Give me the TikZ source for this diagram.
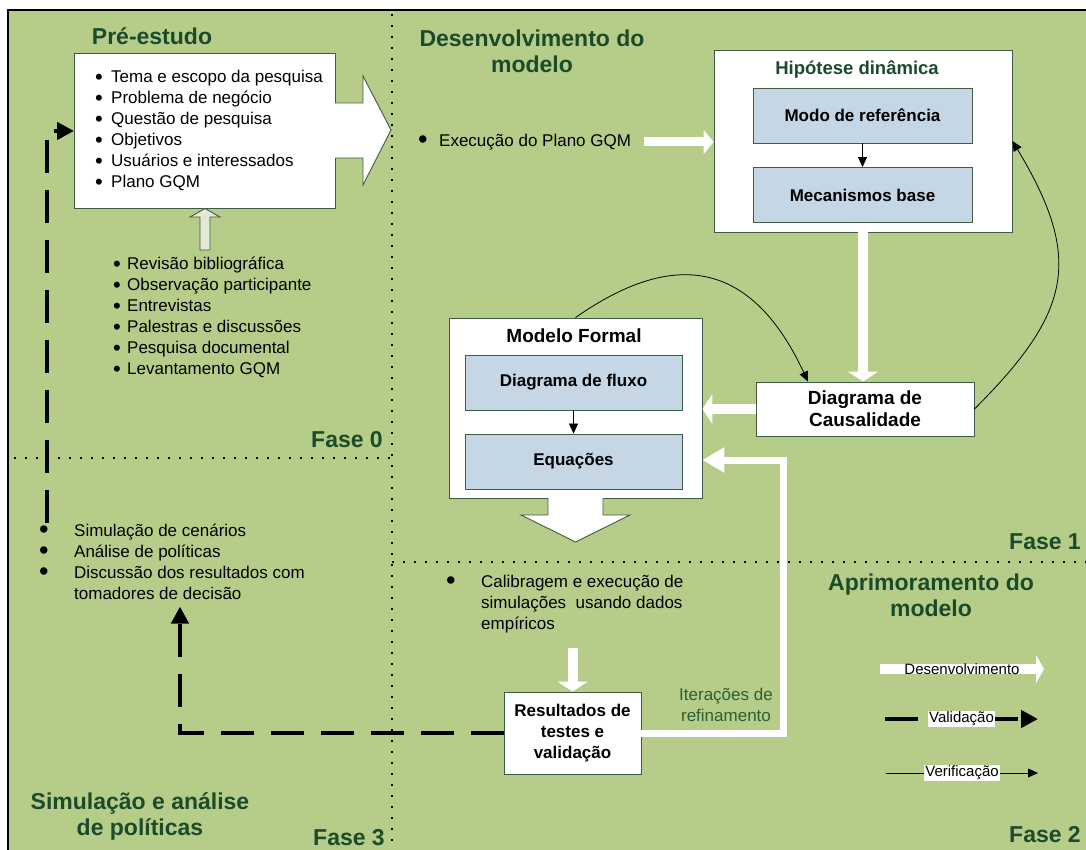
\documentclass[tikz,border=0pt]{standalone}
\usepackage{fontspec}
\usepackage{graphicx}
\setmainfont{Liberation Sans}
\usetikzlibrary{positioning,arrows.meta,calc}

\definecolor{fundo}{RGB}{182,205,137}
\definecolor{verdetit}{RGB}{27,75,43}
\definecolor{verdeiter}{RGB}{44,95,52}
\definecolor{azulcaixa}{RGB}{197,214,229}
\definecolor{bordacx}{RGB}{62,92,70}
\definecolor{cinzaseta}{RGB}{229,232,214}

\newcommand{\marca}[2][1.4]{\makebox[#2][l]{\smash{\raisebox{-0.13em}{\scalebox{#1}{\textbullet}}}}}

\tikzset{
  caixa/.style={draw=bordacx, fill=white, line width=0.9pt, inner sep=0pt},
  subcaixa/.style={draw=bordacx, fill=azulcaixa, line width=0.9pt,
    minimum width=219pt, minimum height=55pt,
    font=\fontsize{17}{21}\selectfont\bfseries},
  titulo/.style={text=verdetit, font=\fontsize{23}{26}\selectfont\bfseries,
    align=center, inner sep=0pt},
  fase/.style={text=verdetit, font=\fontsize{23}{26}\selectfont\bfseries, inner sep=0pt},
  lista/.style={font=\fontsize{17}{21}\selectfont, align=left, inner sep=0pt},
  desenv/.style={white, line width=10pt, -{Triangle[length=10pt,width=30pt]}},
  valid/.style={line width=4.5pt, dash pattern=on 33pt off 17pt,
    -{Triangle[length=17pt,width=17pt]}},
  verif/.style={line width=0.8pt, -{Triangle[length=10pt,width=9pt]}},
  pontos/.style={line width=1.6pt, dash pattern=on 1.6pt off 9.4pt},
  legenda/.style={fill=white, text=black, inner sep=1pt, font=\fontsize{15}{18}\selectfont}
}

\begin{document}
\begin{tikzpicture}[x=1pt, y=-1pt]
    \useasboundingbox (0,0) rectangle (1086,850);
    \fill[white] (0,0) rectangle (1086,850);
    \fill[fundo] (8,10) rectangle (1086,850);
    \draw[line width=2pt] (8,850) -- (8,10) -- (1086,10);

    % divisao das fases
    \draw[pontos] (392,14) -- (392,850);
    \draw[pontos] (14,458) -- (392,458);
    \draw[pontos] (392,562) -- (1086,562);

    \node[titulo] (t0) at (152,36) {Pré-estudo};
    \node[titulo] (t1) at (532,51.5) {Desenvolvimento do\\modelo};
    \node[titulo] (t2) at (931,595) {Aprimoramento do\\modelo};
    \node[titulo] (t3) at (140,816.5) {Simulação e análise\\de políticas};

    \node[fase, anchor=east] (fase0) at (383,440) {Fase 0};
    \node[fase, anchor=east] (fase1) at (1081,542) {Fase 1};
    \node[fase, anchor=east] (fase2) at (1081,835) {Fase 2};
    \node[fase, anchor=east] (fase3) at (385,838) {Fase 3};

    % fase 0
    \node[caixa, minimum width=261pt, minimum height=155pt, anchor=north west]
        (preestudo) at (74,53) {};
    \fill[white] (334,103) -- (363,103) -- (363,76) -- (391,130)
        -- (363,185) -- (363,158) -- (334,158) -- cycle;
    \draw[bordacx, line width=0.9pt] (335,103) -- (363,103) -- (363,76)
        -- (391,130) -- (363,185) -- (363,158) -- (335,158);
    \node[lista, anchor=west] (temas) at (95,130) {%
        \marca[1.3]{16pt}Tema e escopo da pesquisa\\
        \marca[1.3]{16pt}Problema de negócio\\
        \marca[1.3]{16pt}Questão de pesquisa\\
        \marca[1.3]{16pt}Objetivos\\
        \marca[1.3]{16pt}Usuários e interessados\\
        \marca[1.3]{16pt}Plano GQM};

    \node[lista, anchor=west] (fontes) at (113,317) {%
        \marca[1.3]{14pt}Revisão bibliográfica\\
        \marca[1.3]{14pt}Observação participante\\
        \marca[1.3]{14pt}Entrevistas\\
        \marca[1.3]{14pt}Palestras e discussões\\
        \marca[1.3]{14pt}Pesquisa documental\\
        \marca[1.3]{14pt}Levantamento GQM};
    \filldraw[fill=cinzaseta, draw=bordacx, line width=0.9pt]
        (200,250) -- (210,250) -- (210,217) -- (220,217) -- (205,208.5)
        -- (190,217) -- (200,217) -- cycle;

    % fase 3
    \node[lista, anchor=west] (simulacao) at (39,561.5) {%
        \marca[1.6]{35pt}Simulação de cenários\\
        \marca[1.6]{35pt}Análise de políticas\\
        \marca[1.6]{35pt}Discussão dos resultados com\\
        \hspace*{35pt}tomadores de decisão};

    % fase 1
    \node[lista, anchor=west] (execucao) at (418,142) {\marca[1.6]{21pt}Execução do Plano GQM};
    \node[caixa, minimum width=298pt, minimum height=182pt] (hipotese) at (863,141) {};
    \node[text=verdetit, font=\fontsize{18.5}{22}\selectfont\bfseries]
        (hiptit) at (857,70) {Hipótese dinâmica};
    \node[subcaixa] (modo) at (862.5,115.5) {Modo de referência};
    \node[subcaixa] (mecanismos) at (862.5,195) {Mecanismos base};

    \node[caixa, minimum width=253pt, minimum height=180pt] (formal) at (575.5,408) {};
    \node[font=\fontsize{19}{22}\selectfont\bfseries] (formaltit) at (574,336) {Modelo Formal};
    \node[subcaixa, minimum width=217pt] (fluxo) at (573.5,382.5) {Diagrama de fluxo};
    \node[subcaixa, minimum width=217pt] (equacoes) at (573.5,461.5) {Equações};
    \fill[white] (548,497) -- (548,515) -- (521,515) -- (575.5,542)
        -- (630,515) -- (603,515) -- (603,497) -- cycle;
    \draw[bordacx, line width=0.9pt] (548,498) -- (548,515) -- (521,515)
        -- (575.5,542) -- (630,515) -- (603,515) -- (603,498);

    \node[caixa, minimum width=218pt, minimum height=54pt, align=center,
        font=\fontsize{19}{22}\selectfont\bfseries] (causal) at (865,409)
        {Diagrama de\\Causalidade};

    \draw[desenv, line width=9pt, -{Triangle[length=10pt,width=24pt]}]
        ([xshift=13pt]execucao.east) -- (execucao.east -| hipotese.west);
    \draw[desenv] (hipotese.south) -- (hipotese.south |- causal.north);
    \draw[desenv] (causal.west) -- (causal.west -| formal.east);
    \draw[verif] (modo) -- (mecanismos);
    \draw[verif] (fluxo) -- (equacoes);
    \draw[verif] (formal.north) to[out=35, in=115, looseness=1.35]
        ([xshift=-57pt]causal.north);
    \draw[verif] (causal.east) to[out=45, in=-59, looseness=1.3] (hipotese.east);

    % fase 2
    \node[lista, anchor=west] (calibragem) at (446,604) {%
        \marca[1.6]{35pt}Calibragem e execução de\\
        \hspace*{35pt}simulações\ \ usando dados\\
        \hspace*{35pt}empíricos};
    \node[caixa, minimum width=137pt, minimum height=82pt, align=center,
        font=\fontsize{17}{21}\selectfont\bfseries] (resultados) at (572.5,733)
        {Resultados de\\testes e\\validação};
    \node[text=verdeiter, align=center, font=\fontsize{17}{21}\selectfont]
        (iteracoes) at (726,704.5) {Iterações de\\refinamento};

    \draw[desenv] ([yshift=44pt]resultados.north) -- (resultados.north);
    \draw[white, line width=7pt, -{Triangle[length=22pt,width=24pt]}]
        (resultados.east) -- ++(142,0) |- ([yshift=-52pt]formal.east);

    % validacao
    \draw[valid] (resultados.west) -| ([xshift=8pt,yshift=-7pt]simulacao.south);
    \draw[valid] ([xshift=8pt]simulacao.north west) |- (preestudo);

    % legenda
    \coordinate (desA) at (880,669);
    \coordinate (desB) at (1044,669);
    \coordinate (valA) at (885,719);
    \coordinate (valB) at (1038,719);
    \coordinate (verA) at (886,773);
    \coordinate (verB) at (1038,773);
    \draw[desenv, -{Triangle[length=8pt,width=28pt]}] (desA) -- (desB)
        node[midway, legenda, fill=none] (legdes) {Desenvolvimento};
    \draw[valid] (valA) -- (valB) node[midway, legenda] (legval) {Validação};
    \draw[verif] (verA) -- (verB) node[midway, legenda] (legver) {Verificação};
\end{tikzpicture}
\end{document}
